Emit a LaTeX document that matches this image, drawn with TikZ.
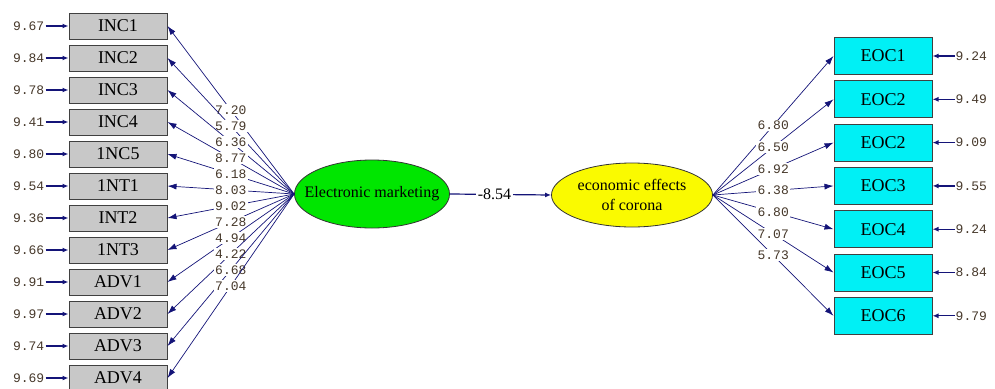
\documentclass[tikz,border=0pt]{standalone}
\usepackage{fontspec}
\setmainfont{Liberation Serif}
\newfontfamily\numfont{Liberation Mono}
\usetikzlibrary{arrows.meta,positioning,shapes.geometric}

\definecolor{pathblue}{RGB}{20,20,120}
\definecolor{numbrown}{RGB}{70,56,42}
\definecolor{boxgray}{RGB}{200,200,200}
\definecolor{boxcyan}{RGB}{0,240,245}
\definecolor{latgreen}{RGB}{0,230,0}
\definecolor{latyellow}{RGB}{250,250,0}

\tikzset{
  obsbox/.style={draw=black!75, line width=1pt, inner sep=0pt, minimum width=98pt,
    font=\fontsize{18}{18}\selectfont},
  obsleft/.style={obsbox, fill=boxgray, minimum height=26pt},
  obsright/.style={obsbox, fill=boxcyan, minimum height=37pt},
  latent/.style={ellipse, draw=black!80, line width=0.8pt, inner sep=0pt,
    font=\fontsize{16}{20}\selectfont, align=center},
  errnum/.style={font=\numfont\fontsize{13}{13}\selectfont, text=numbrown, inner sep=1pt},
  loadnum/.style={errnum, fill=white, inner sep=1.5pt},
  loadpath/.style={pathblue, line width=0.7pt, -{Latex[length=9pt,width=6pt]}},
  errpath/.style={pathblue, line width=1.2pt, -{Latex[length=6pt,width=5pt]}}
}

\begin{document}
\begin{tikzpicture}[x=1pt, y=-1pt]
  \useasboundingbox (0,0) rectangle (995,388);

  % Latent variables
  \node[latent, fill=latgreen, inner xsep=-13pt, minimum width=155pt, minimum height=68pt]
    (em) at (372,194) {Electronic marketing};
  \node[latent, fill=latyellow, minimum width=161pt, minimum height=64pt] (ec) at (632,195)
    {economic effects\\of corona};

  % Structural path
  \draw[errpath] (em.east) -- (ec.west)
    node[pos=0.44, fill=white, text=black, inner sep=2pt, font=\fontsize{16}{16}\selectfont] {-8.54};

  % Indicators of electronic marketing
  \foreach \lab/\err/\load [count=\i] in {INC1/9.67/7.20, INC2/9.84/5.79, INC3/9.78/6.36,
      INC4/9.41/8.77, 1NC5/9.80/6.18, 1NT1/9.54/8.03, INT2/9.36/9.02, 1NT3/9.66/7.28,
      ADV1/9.91/4.94, ADV2/9.97/4.22, ADV3/9.74/6.68, ADV4/9.69/7.04}
  {
    \node[obsleft] (o\i) at (118,{26+32*(\i-1)}) {\lab};
    \node[errnum, left=23pt of o\i] (e\i) {\err};
    \draw[errpath] (e\i) -- (o\i.west);
    \draw[loadpath] (em.west) -- (o\i.east) node[midway, loadnum] {\load};
  }

  % Indicators of economic effects
  \foreach \lab/\err/\load [count=\i] in {EOC1/9.24/6.80, EOC2/9.49/6.50, EOC2/9.09/6.92,
      EOC3/9.55/6.38, EOC4/9.24/6.80, EOC5/8.84/7.07, EOC6/9.79/5.73}
  {
    \node[obsright] (r\i) at (883,{56+43.3*(\i-1)}) {\lab};
    \node[errnum, right=22pt of r\i] (f\i) {\err};
    \draw[errpath] (f\i) -- (r\i.east);
    \draw[loadpath] (ec.east) -- (r\i.west) node[midway, loadnum] {\load};
  }

\end{tikzpicture}
\end{document}
